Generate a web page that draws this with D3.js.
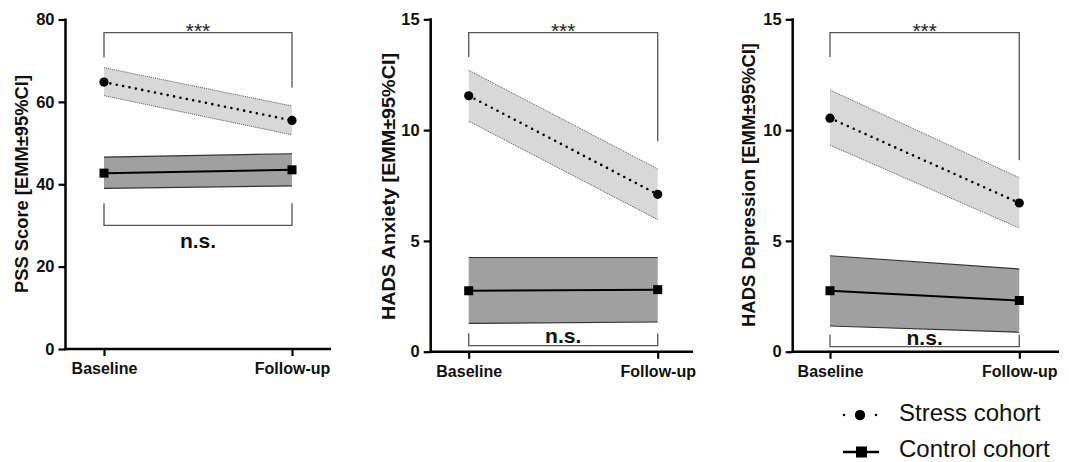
<!DOCTYPE html>
<html>
<head>
<meta charset="utf-8">
<script src="https://cdn.jsdelivr.net/npm/d3@7"></script>
<style>
  html, body { margin: 0; padding: 0; background: #fff; }
  svg { display: block; font-family: "Liberation Sans", Arial, sans-serif; }
</style>
</head>
<body>
<svg id="chart" width="1069" height="462"></svg>
<script>
// ---- data ----
const categories = ["Baseline", "Follow-up"];
const panelTitles = ["PSS Score [EMM\u00B195%CI]", "HADS Anxiety [EMM\u00B195%CI]", "HADS Depression [EMM\u00B195%CI]"];
const yMax = [80, 15, 15];
const yTicks = [[0, 20, 40, 60, 80], [0, 5, 10, 15], [0, 5, 10, 15]];
const stressMean  = [[64.8, 55.5], [11.55, 7.1], [10.54, 6.71]];
const stressLower = [[61.5, 52.0], [10.4, 5.96], [9.32, 5.58]];
const stressUpper = [[68.3, 59.0], [12.7, 8.25], [11.81, 7.85]];
const controlMean  = [[42.7, 43.5], [2.75, 2.8], [2.75, 2.31]];
const controlLower = [[39.0, 39.6], [1.28, 1.34], [1.16, 0.88]];
const controlUpper = [[46.6, 47.4], [4.25, 4.25], [4.33, 3.73]];
// significance brackets: [left end, bar level, right end]
const topBracket    = [[70.8, 76.8, 63.5], [13.3, 14.4, 9.5], [13.3, 14.4, 8.64]];
const bottomBracket = [[35.4, 30.0, 35.4], [0.83, 0.27, 0.83], [0.76, 0.23, 0.76]];
const nsLevel = [24.5, 0.39, 0.3];
const sigLabels = ["***", "n.s."];
const legendLabels = ["Stress cohort", "Control cohort"];

// ---- layout ----
const layout = [
  { left: 65.5, right: 331, top: 19.5, bottom: 349, c0: 104, c1: 292, lx: 21.7, ly: 184, len: 218 },
  { left: 430.7, right: 693, top: 19.3, bottom: 351.7, c0: 468.7, c1: 657.7, lx: 388.3, ly: 186.5, len: 267 },
  { left: 792.7, right: 1059, top: 19.3, bottom: 351.7, c0: 830, c1: 1019.3, lx: 748, ly: 185, len: 284 }
];

const svg = d3.select("#chart");

layout.forEach((L, p) => {
  const g = svg.append("g");
  const x = d3.scalePoint().domain(categories).range([L.c0, L.c1]);
  const y = d3.scaleLinear().domain([0, yMax[p]]).range([L.bottom, L.top]);

  const rows = (m, lo, hi) => categories.map((c, i) => ({ c, m: m[p][i], lo: lo[p][i], hi: hi[p][i] }));
  const stress = rows(stressMean, stressLower, stressUpper);
  const control = rows(controlMean, controlLower, controlUpper);

  const area = d3.area().x(d => x(d.c)).y0(d => y(d.lo)).y1(d => y(d.hi));
  const lineM = d3.line().x(d => x(d.c)).y(d => y(d.m));
  const lineLo = d3.line().x(d => x(d.c)).y(d => y(d.lo));
  const lineHi = d3.line().x(d => x(d.c)).y(d => y(d.hi));

  // control band
  g.append("path").attr("d", area(control)).attr("fill", "#a0a0a0");
  [lineLo, lineHi].forEach(f => g.append("path").attr("d", f(control))
    .attr("fill", "none").attr("stroke", "#333").attr("stroke-width", 1.2));
  // stress band
  g.append("path").attr("d", area(stress)).attr("fill", "#d8d8d8");
  [lineLo, lineHi].forEach(f => g.append("path").attr("d", f(stress))
    .attr("fill", "none").attr("stroke", "#555").attr("stroke-width", 1).attr("stroke-dasharray", "1,1"));

  // mean lines
  g.append("path").attr("d", lineM(control)).attr("fill", "none")
    .attr("stroke", "#000").attr("stroke-width", 2);
  g.append("path").attr("d", lineM(stress)).attr("fill", "none")
    .attr("stroke", "#000").attr("stroke-width", 2.6)
    .attr("stroke-linecap", "round").attr("stroke-dasharray", "0,6.5");

  // markers
  g.selectAll(".sq").data(control).enter().append("rect")
    .attr("x", d => x(d.c) - 4.5).attr("y", d => y(d.m) - 4.5)
    .attr("width", 9).attr("height", 9).attr("fill", "#000");
  g.selectAll(".ci").data(stress).enter().append("circle")
    .attr("cx", d => x(d.c)).attr("cy", d => y(d.m)).attr("r", 4.6).attr("fill", "#000");

  // brackets
  const tb = topBracket[p], bb = bottomBracket[p];
  g.append("path")
    .attr("d", `M${x(categories[0])},${y(tb[0])}V${y(tb[1])}H${x(categories[1])}V${y(tb[2])}`)
    .attr("fill", "none").attr("stroke", "#555").attr("stroke-width", 1.3);
  g.append("path")
    .attr("d", `M${x(categories[0])},${y(bb[0])}V${y(bb[1])}H${x(categories[1])}V${y(bb[2])}`)
    .attr("fill", "none").attr("stroke", "#555").attr("stroke-width", 1.3);
  const midX = (x(categories[0]) + x(categories[1])) / 2;
  g.append("text").attr("x", midX).attr("y", y(tb[1]) + 5.5)
    .attr("text-anchor", "middle").attr("font-size", 21).attr("fill", "#222").text(sigLabels[0]);
  g.append("text").attr("x", midX).attr("y", y(nsLevel[p]))
    .attr("text-anchor", "middle").attr("font-size", 21).attr("font-weight", "bold").attr("fill", "#111").text(sigLabels[1]);

  // axes
  const ya = g.append("g").attr("transform", `translate(${L.left},0)`)
    .call(d3.axisLeft(y).tickValues(yTicks[p]).tickSize(7).tickPadding(4).tickFormat(d3.format("d")));
  ya.select(".domain").remove();
  ya.selectAll(".tick line").attr("stroke", "#000").attr("stroke-width", 2.2);
  ya.selectAll(".tick text").attr("font-size", 16.5).attr("font-weight", "bold")
    .attr("font-family", "Liberation Sans, Arial, sans-serif").attr("fill", "#111");
  g.append("line").attr("x1", L.left).attr("x2", L.left).attr("y1", y(yMax[p]) - 1).attr("y2", L.bottom + 1.2)
    .attr("stroke", "#000").attr("stroke-width", 2.5);

  const xa = g.append("g").attr("transform", `translate(0,${L.bottom})`)
    .call(d3.axisBottom(x).tickSize(7).tickPadding(7));
  xa.select(".domain").remove();
  xa.selectAll(".tick line").attr("stroke", "#000").attr("stroke-width", 2.2);
  xa.selectAll(".tick text").attr("font-size", 16).attr("font-weight", "bold")
    .attr("font-family", "Liberation Sans, Arial, sans-serif").attr("fill", "#111");
  g.append("line").attr("x1", L.left - 1.2).attr("x2", L.right).attr("y1", L.bottom).attr("y2", L.bottom)
    .attr("stroke", "#000").attr("stroke-width", 2.5);

  // y label
  g.append("text")
    .attr("transform", `translate(${L.lx + 6.5},${L.ly}) rotate(-90)`)
    .attr("text-anchor", "middle").attr("font-size", 18.5).attr("font-weight", "bold").attr("fill", "#111")
    .attr("textLength", L.len).attr("lengthAdjust", "spacingAndGlyphs")
    .text(panelTitles[p]);
});

// legend
const leg = svg.append("g");
const legRows = [
  { y: 415, base: 420.5, label: legendLabels[0], type: "stress" },
  { y: 452, base: 456.5, label: legendLabels[1], type: "control" }
];
legRows.forEach(r => {
  if (r.type === "stress") {
    leg.append("line").attr("x1", 844).attr("x2", 878).attr("y1", r.y).attr("y2", r.y)
      .attr("stroke", "#000").attr("stroke-width", 2.6).attr("stroke-linecap", "round").attr("stroke-dasharray", "0,16");
    leg.append("circle").attr("cx", 860).attr("cy", r.y).attr("r", 5.2).attr("fill", "#000");
  } else {
    leg.append("line").attr("x1", 843).attr("x2", 879).attr("y1", r.y).attr("y2", r.y)
      .attr("stroke", "#000").attr("stroke-width", 2.5);
    leg.append("rect").attr("x", 856).attr("y", r.y - 5.5).attr("width", 11).attr("height", 11).attr("fill", "#000");
  }
  leg.append("text").attr("x", 899).attr("y", r.base)
    .attr("font-size", 24).attr("fill", "#111").text(r.label);
});
</script>
</body>
</html>
